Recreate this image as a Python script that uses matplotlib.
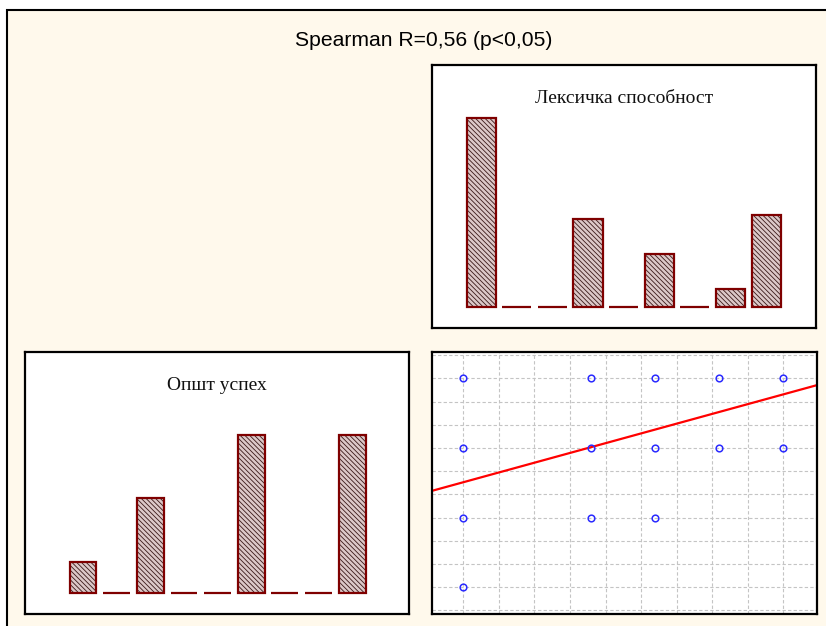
import matplotlib
matplotlib.use("Agg")
import matplotlib.pyplot as plt
from matplotlib.patches import Rectangle
import numpy as np

# ---------------- data ----------------
title_text = "Spearman R=0,56 (p<0,05)"

lex_title = "Лексичка способност"
lex_bins = [1, 2, 3, 4, 5, 6, 7, 8, 9]
lex_counts = [10.5, 0, 0, 4.9, 0, 2.95, 0, 1.0, 5.15]

usp_title = "Општ успех"
usp_bins = [1, 2, 3, 4, 5, 6, 7, 8, 9]
usp_counts = [1, 0, 3, 0, 0, 5, 0, 0, 5]

scatter_x = [1, 3, 4, 5, 6, 1, 3, 4, 5, 6, 1, 3, 4, 1]
scatter_y = [4, 4, 4, 4, 4, 3, 3, 3, 3, 3, 2, 2, 2, 1]
fit_intercept = 2.255
fit_slope = 0.2525

# ---------------- figure ----------------
W, H = 826, 626
fig = plt.figure(figsize=(W / 100, H / 100), dpi=100)
fig.patch.set_facecolor("white")

def px_rect(l, t, r, b):
    return [l / W, 1 - b / H, (r - l) / W, (b - t) / H]

bg = Rectangle((7.5 / W, -0.1), 1.2, 1 - 9.5 / H + 0.1, transform=fig.transFigure,
               facecolor="#fff9ec", edgecolor="black", linewidth=1.5, zorder=0)
fig.add_artist(bg)

fig.text(424 / W, 1 - 41 / H, title_text, ha="center", va="center",
         fontsize=15.2, family="Liberation Sans", color="black")

EDGE = "#7f0000"
HATCH = "#3a1818"
plt.rcParams["hatch.linewidth"] = 0.6

def hist_panel(rect, bins, counts, title, xlim, ylim, width):
    ax = fig.add_axes(rect)
    ax.set_facecolor("white")
    ax.bar(bins, counts, width=width, facecolor="#dcc8c8", edgecolor=HATCH,
           linewidth=0, hatch="\\\\\\\\\\\\\\", zorder=2)
    ax.bar(bins, counts, width=width, fill=False, edgecolor=EDGE,
           linewidth=1.6, zorder=3)
    ax.set_xlim(*xlim)
    ax.set_ylim(*ylim)
    ax.set_xticks([])
    ax.set_yticks([])
    for s in ax.spines.values():
        s.set_linewidth(1.6)
        s.set_color("black")
    ax.text(0.5, 0.871, title, transform=ax.transAxes, ha="center", va="center",
            fontsize=14, family="Liberation Serif", color="#111111")
    return ax

# top-right histogram (Лексичка способност)
hist_panel(px_rect(432, 65, 816, 328), lex_bins, lex_counts, lex_title,
           (-0.382, 10.404), (-1.15, 13.46), 0.815)

# bottom-left histogram (Општ успех)
hist_panel(px_rect(25, 352, 409, 614), usp_bins, usp_counts, usp_title,
           (-0.723, 10.685), (-0.654, 7.62), 0.8)

# scatter
ax = fig.add_axes(px_rect(432, 352, 817, 614))
ax.set_facecolor("white")
xlim = (0.511, 6.527)
ylim = (0.614, 4.379)
ax.set_xlim(*xlim)
ax.set_ylim(*ylim)
ax.set_xticks(1 + np.arange(0, 10) * 5 / 9)
ax.set_yticks(np.arange(2, 14) / 3)
ax.tick_params(length=0, labelbottom=False, labelleft=False)
ax.grid(True, color="#c4c4c4", linestyle=(0, (3, 2)), linewidth=0.8, zorder=0)
ax.set_axisbelow(True)
ax.plot(scatter_x, scatter_y, linestyle="none", marker="o", markersize=4.8,
        markerfacecolor="none", markeredgecolor="#2a2aff", markeredgewidth=1.1, zorder=3)
xx = np.array(xlim)
ax.plot(xx, fit_intercept + fit_slope * xx, color="#ff0000", linewidth=1.6, zorder=2)
for s in ax.spines.values():
    s.set_linewidth(1.6)
    s.set_color("black")

fig.savefig("out.png", dpi=100, facecolor=fig.get_facecolor())
